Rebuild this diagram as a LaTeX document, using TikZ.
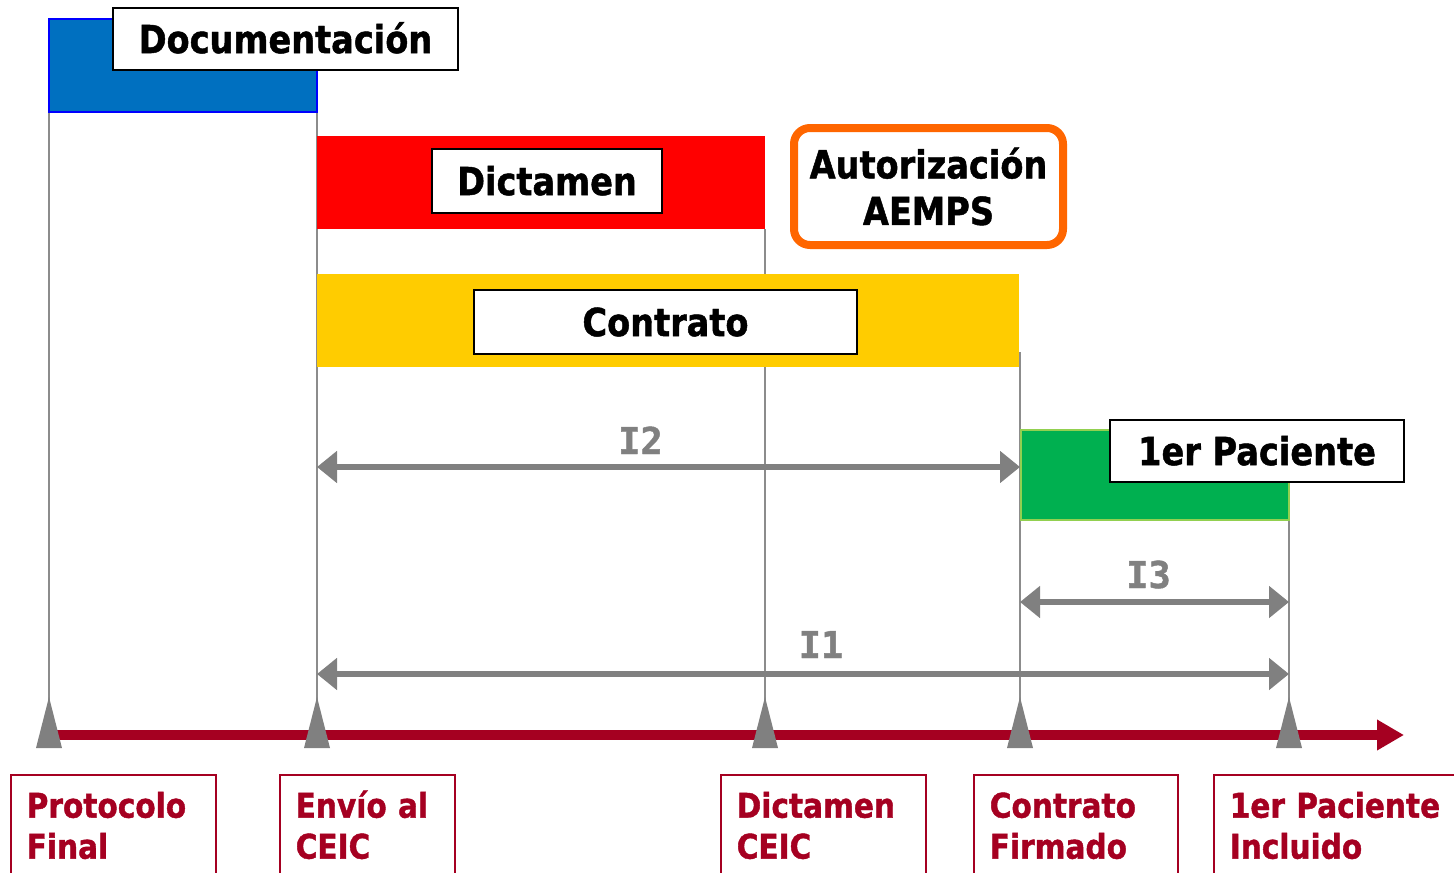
\documentclass[tikz,border=0pt]{standalone}
\usepackage{fontspec}
\newfontfamily\tfont{DejaVu Sans}[FakeStretch=0.87, BoldFeatures={FakeBold=1.2}]
\newfontfamily\ifont{DejaVu Sans Mono}[BoldFeatures={FakeBold=1.2}]
\usetikzlibrary{arrows.meta,fit}
\definecolor{cblue}{HTML}{0070C0}
\definecolor{cred}{HTML}{FF0000}
\definecolor{cyellow}{HTML}{FFCC00}
\definecolor{cgreen}{HTML}{00B050}
\definecolor{cgreenedge}{HTML}{92D050}
\definecolor{corange}{HTML}{FF6600}
\definecolor{cdred}{HTML}{A50021}
\definecolor{cgray}{HTML}{808080}
\definecolor{cvline}{HTML}{8C8C8C}
\begin{document}
\begin{tikzpicture}[x=0.5pt,y=-0.5pt,
  bar/.style={inner sep=0pt, outer sep=0pt},
  lbl/.style={draw=black, line width=1pt, fill=white, inner sep=0pt,
    font=\tfont\bfseries\fontsize{19.3}{23.3}\selectfont,
    text height=14.1pt, text depth=0pt},
  autbox/.style={draw=corange, line width=4pt, rounded corners=8pt, fill=white,
    inner sep=0pt, align=center,
    font=\tfont\bfseries\fontsize{19.3}{23.3}\selectfont},
  bbox/.style={draw=cdred, line width=0.75pt, anchor=north west, align=left,
    inner xsep=8pt, inner ysep=7.1pt, text=cdred,
    font=\tfont\bfseries\fontsize{17}{20.5}\selectfont},
  vline/.style={draw=cvline, line width=0.75pt},
  iarrow/.style={draw=cgray, line width=3pt, >={Triangle[length=10pt,width=15.5pt]}, <->},
  ilbl/.style={anchor=base, text=cgray, font=\ifont\bfseries\fontsize{18.5}{20}\selectfont, inner sep=0pt},
  timeline/.style={draw=cdred, line width=5pt, -{Triangle[length=13.5pt,width=14.5pt]}},
  marker/.style={fill=cgray}
]
\useasboundingbox (0,0) rectangle (1454,872);
\clip (0,0) rectangle (1454,872);

% time points
\coordinate (t1) at (49,735);
\coordinate (t2) at (317,735);
\coordinate (t3) at (765,735);
\coordinate (t4) at (1020,735);
\coordinate (t5) at (1289,735);
\coordinate (tend) at (1404,735);

% vertical guide lines
\coordinate (v1) at (49,85);
\coordinate (v2) at (317,87);
\coordinate (v3) at (765,229);
\coordinate (v4) at (1020,352);
\coordinate (v5) at (1289,497);
\draw[vline] (v1) -- (t1);
\draw[vline] (v2) -- (t2);
\draw[vline] (v3) -- (t3);
\draw[vline] (v4) -- (t4);
\draw[vline] (v5) -- (t5);

% bars
\node[bar, fill=cblue, draw=blue, line width=0.6pt, fit={(49,19) (317,112)}] (docbar) {};
\node[bar, fill=cred, fit={(317,136) (765,229)}] (dicbar) {};
\node[bar, fill=cyellow, fit={(317,274) (1019,367)}] (conbar) {};
\node[bar, fill=cgreen, draw=cgreenedge, line width=0.6pt, fit={(1021,430) (1289,520)}] (pacbar) {};

% labels on bars
\node[lbl, minimum width=172.5pt, minimum height=31pt] (doc) at (285.5,39) {Documentación};
\node[lbl, minimum width=115pt, minimum height=32pt] (dic) at (547,181) {Dictamen};
\node[lbl, minimum width=191.5pt, minimum height=32pt] (con) at (665.5,322) {Contrato};
\node[lbl, minimum width=147pt, minimum height=31pt] (pac) at (1257,451) {1er Paciente};
\node[autbox, minimum width=134.5pt, minimum height=58.5pt] (aut) at (928.5,186.5) {Autorización\\AEMPS};

% interval arrows
\coordinate (i2a) at (317,467);
\coordinate (i2b) at (1020,467);
\coordinate (i3a) at (1020,602);
\coordinate (i3b) at (1289,602);
\coordinate (i1a) at (317,674);
\coordinate (i1b) at (1289,674);
\draw[iarrow] (i2a) -- (i2b);
\draw[iarrow] (i3a) -- (i3b);
\draw[iarrow] (i1a) -- (i1b);
\node[ilbl] (l2) at (640.5,454) {I2};
\node[ilbl] (l3) at (1148.5,588) {I3};
\node[ilbl] (l1) at (821,658) {I1};

% timeline
\draw[timeline] (t1) -- (tend);
\foreach \t in {t1,t2,t3,t4,t5}{
  \fill[marker] (\t) ++(0,-38) -- ++(-13,51) -- ++(26,0) -- cycle;
}

% milestone boxes
\node[bbox, text width=86.5pt] (m1) at (10,774) {\strut Protocolo\\Final\rule[-30pt]{0pt}{30pt}};
\node[bbox, text width=71.5pt] (m2) at (279,774) {\strut Envío al\\CEIC\rule[-30pt]{0pt}{30pt}};
\node[bbox, text width=86.5pt] (m3) at (720,774) {\strut Dictamen\\CEIC\rule[-30pt]{0pt}{30pt}};
\node[bbox, text width=86pt] (m4) at (973,774) {\strut Contrato\\Firmado\rule[-30pt]{0pt}{30pt}};
\node[bbox, text width=128pt] (m5) at (1213,774) {\strut 1er Paciente\\Incluido\rule[-30pt]{0pt}{30pt}};
\end{tikzpicture}
\end{document}
